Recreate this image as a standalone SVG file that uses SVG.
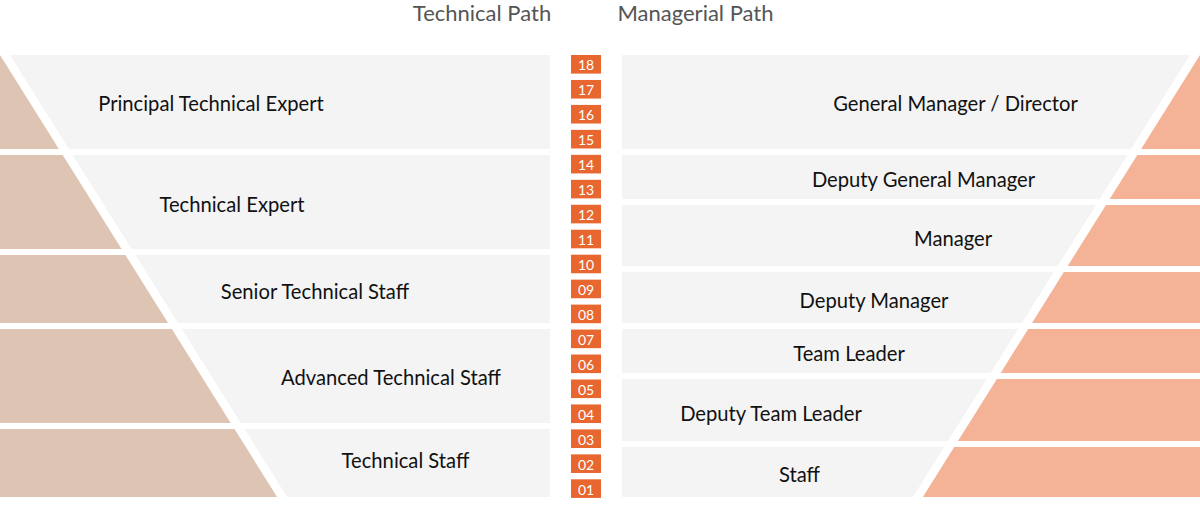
<svg xmlns="http://www.w3.org/2000/svg" width="1200" height="507" viewBox="0 0 1200 507">
<style>
.band{fill:#F4F4F4}
.tan{fill:#DEC4B2}
.org{fill:#F4B397}
.lbl{font-family:Lato,"Open Sans","Liberation Sans",sans-serif;font-size:20.2px;fill:#111;text-anchor:middle}
.hdr{font-family:Lato,"Open Sans","Liberation Sans",sans-serif;font-size:22px;fill:#555;text-anchor:middle}
.badge{fill:#E8662F}
.num{font-family:Lato,"Open Sans","Liberation Sans",sans-serif;font-size:14px;fill:#fff;text-anchor:middle}
</style>
<rect width="1200" height="507" fill="#fff"/>
<g id="headers">
<text class="hdr" x="482" y="20.5">Technical Path</text>
<text class="hdr" x="695.5" y="20.5">Managerial Path</text>
</g>
<g id="connectors"></g>
<g id="tech-principal">
<polygon class="tan" points="0,55 58.9,149 0,149"/>
<polygon class="band" points="10,55 550,55 550,149 68.9,149"/>
<text class="lbl" x="211" y="111">Principal Technical Expert</text>
</g>
<g id="tech-expert">
<polygon class="tan" points="0,155 62.7,155 121.6,249 0,249"/>
<polygon class="band" points="72.7,155 550,155 550,249 131.6,249"/>
<text class="lbl" x="232" y="212">Technical Expert</text>
</g>
<g id="tech-senior">
<polygon class="tan" points="0,255 125.4,255 168,323 0,323"/>
<polygon class="band" points="135.4,255 550,255 550,323 178,323"/>
<text class="lbl" x="315" y="299">Senior Technical Staff</text>
</g>
<g id="tech-advanced">
<polygon class="tan" points="0,329 171.8,329 230.7,423 0,423"/>
<polygon class="band" points="181.8,329 550,329 550,423 240.7,423"/>
<text class="lbl" x="391" y="385">Advanced Technical Staff</text>
</g>
<g id="tech-staff">
<polygon class="tan" points="0,429 234.5,429 277.1,497 0,497"/>
<polygon class="band" points="244.5,429 550,429 550,497 287.1,497"/>
<text class="lbl" x="405.5" y="468">Technical Staff</text>
</g>
<g id="mgr-gm">
<polygon class="org" points="1200,55 1200,149 1141.1,149"/>
<polygon class="band" points="622,55 1190,55 1131.1,149 622,149"/>
<text class="lbl" x="955.5" y="111">General Manager / Director</text>
</g>
<g id="mgr-dgm">
<polygon class="org" points="1137.3,155 1200,155 1200,199 1109.7,199"/>
<polygon class="band" points="622,155 1127.3,155 1099.7,199 622,199"/>
<text class="lbl" x="923.5" y="187">Deputy General Manager</text>
</g>
<g id="mgr-manager">
<polygon class="org" points="1106,205 1200,205 1200,266 1067.7,266"/>
<polygon class="band" points="622,205 1096,205 1057.7,266 622,266"/>
<text class="lbl" x="953" y="246">Manager</text>
</g>
<g id="mgr-deputy">
<polygon class="org" points="1063.9,272 1200,272 1200,323 1032,323"/>
<polygon class="band" points="622,272 1053.9,272 1022,323 622,323"/>
<text class="lbl" x="874" y="308">Deputy Manager</text>
</g>
<g id="mgr-teamleader">
<polygon class="org" points="1028.2,329 1200,329 1200,373 1000.6,373"/>
<polygon class="band" points="622,329 1018.2,329 990.6,373 622,373"/>
<text class="lbl" x="849" y="361">Team Leader</text>
</g>
<g id="mgr-deputyteamleader">
<polygon class="org" points="996.9,379 1200,379 1200,441 958,441"/>
<polygon class="band" points="622,379 986.9,379 948,441 622,441"/>
<text class="lbl" x="771" y="421">Deputy Team Leader</text>
</g>
<g id="mgr-staff">
<polygon class="org" points="954.2,447 1200,447 1200,497 922.9,497"/>
<polygon class="band" points="622,447 944.2,447 912.9,497 622,497"/>
<text class="lbl" x="799.5" y="482">Staff</text>
</g>
<g id="levels">
<g id="lv18"><rect class="badge" x="571" y="55" width="30" height="18.6"/><text class="num" x="586" y="69.5">18</text></g>
<g id="lv17"><rect class="badge" x="571" y="79.96" width="30" height="18.6"/><text class="num" x="586" y="94.5">17</text></g>
<g id="lv16"><rect class="badge" x="571" y="104.92" width="30" height="18.6"/><text class="num" x="586" y="119.5">16</text></g>
<g id="lv15"><rect class="badge" x="571" y="129.88" width="30" height="18.6"/><text class="num" x="586" y="144.5">15</text></g>
<g id="lv14"><rect class="badge" x="571" y="154.84" width="30" height="18.6"/><text class="num" x="586" y="169.5">14</text></g>
<g id="lv13"><rect class="badge" x="571" y="179.8" width="30" height="18.6"/><text class="num" x="586" y="194.5">13</text></g>
<g id="lv12"><rect class="badge" x="571" y="204.76" width="30" height="18.6"/><text class="num" x="586" y="219.5">12</text></g>
<g id="lv11"><rect class="badge" x="571" y="229.72" width="30" height="18.6"/><text class="num" x="586" y="244.5">11</text></g>
<g id="lv10"><rect class="badge" x="571" y="254.68" width="30" height="18.6"/><text class="num" x="586" y="269.5">10</text></g>
<g id="lv09"><rect class="badge" x="571" y="279.64" width="30" height="18.6"/><text class="num" x="586" y="294.5">09</text></g>
<g id="lv08"><rect class="badge" x="571" y="304.6" width="30" height="18.6"/><text class="num" x="586" y="319.5">08</text></g>
<g id="lv07"><rect class="badge" x="571" y="329.56" width="30" height="18.6"/><text class="num" x="586" y="344.5">07</text></g>
<g id="lv06"><rect class="badge" x="571" y="354.52" width="30" height="18.6"/><text class="num" x="586" y="369.5">06</text></g>
<g id="lv05"><rect class="badge" x="571" y="379.48" width="30" height="18.6"/><text class="num" x="586" y="394.5">05</text></g>
<g id="lv04"><rect class="badge" x="571" y="404.44" width="30" height="18.6"/><text class="num" x="586" y="419.5">04</text></g>
<g id="lv03"><rect class="badge" x="571" y="429.4" width="30" height="18.6"/><text class="num" x="586" y="444.5">03</text></g>
<g id="lv02"><rect class="badge" x="571" y="454.36" width="30" height="18.6"/><text class="num" x="586" y="469.5">02</text></g>
<g id="lv01"><rect class="badge" x="571" y="479.32" width="30" height="18.6"/><text class="num" x="586" y="494.5">01</text></g>
</g>
</svg>
